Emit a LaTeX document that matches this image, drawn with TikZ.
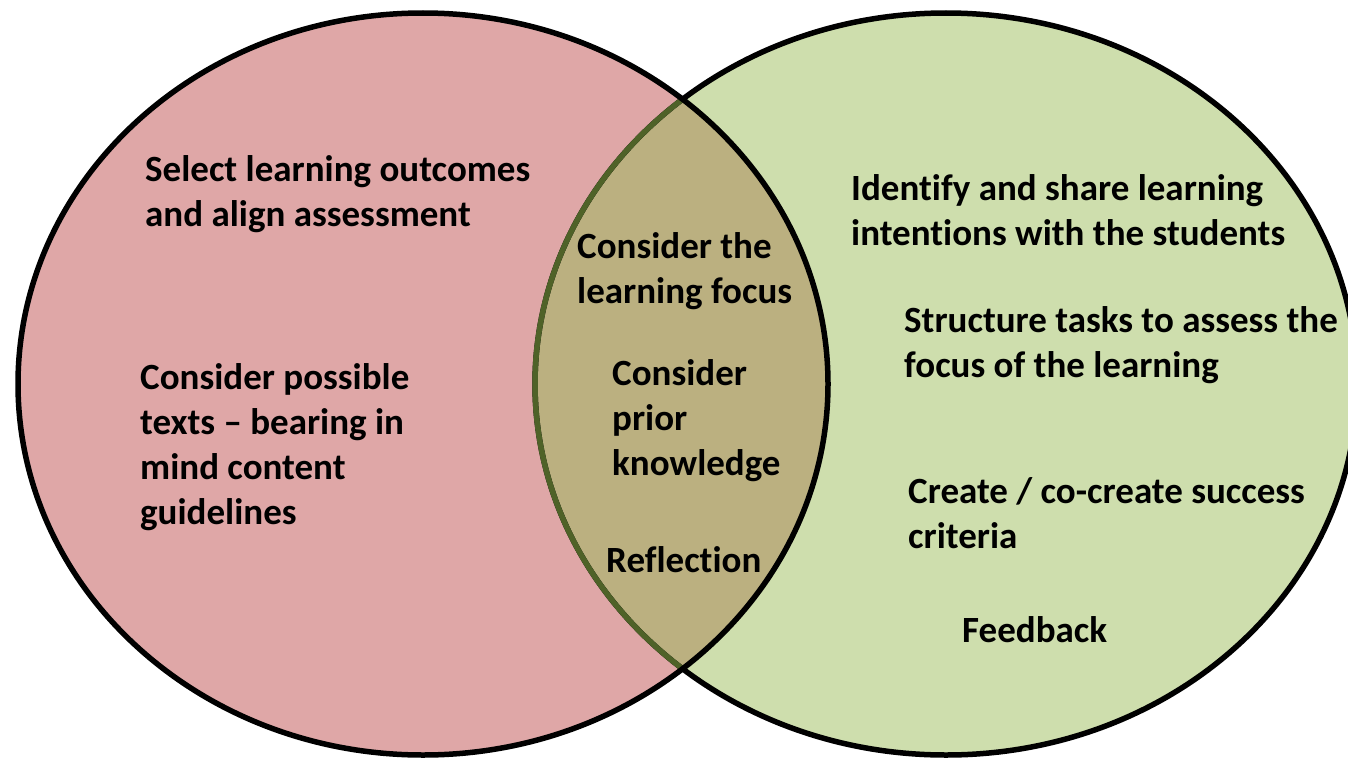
\documentclass[tikz,border=0pt]{standalone}
\usepackage{fontspec}
\setmainfont{Carlito}[Ligatures={NoCommon}]
\definecolor{leftfill}{RGB}{223,167,167}
\definecolor{rightfill}{RGB}{206,222,173}
\definecolor{overlapfill}{RGB}{187,176,128}
\definecolor{olive}{RGB}{79,98,40}
\begin{document}
\begin{tikzpicture}[x=1pt,y=-1pt,
  lbl/.style={font=\bfseries\fontsize{37}{45}\selectfont, align=left, inner sep=0pt, anchor=west, text=black},
  outline/.style={line width=5.5pt}]
\useasboundingbox (0,0) rectangle (1348,760);
\def\Lell{(423,384) ellipse [x radius=405, y radius=371]}
\def\Rell{(946,384) ellipse [x radius=411, y radius=371]}
\fill[leftfill] \Lell;
\fill[rightfill] \Rell;
\begin{scope}
  \clip \Lell;
  \fill[overlapfill] \Rell;
\end{scope}
\draw[outline, black] \Rell;
\begin{scope}
  \clip \Lell;
  \draw[outline, olive] \Rell;
\end{scope}
\draw[outline, black] \Lell;

\node[lbl] (select) at (145,194) {Select learning outcomes\\and align assessment};
\node[lbl] (texts) at (140,447) {Consider possible\\texts -- bearing in\\mind content\\guidelines};
\node[lbl] (focus) at (577,271) {Consider the\\learning focus};
\node[lbl] (prior) at (612,421) {Consider\\prior\\knowledge};
\node[lbl] (refl) at (606,560) {Reflection};
\node[lbl] (identify) at (851,210) {Identify and share learning\\intentions with the students};
\node[lbl] (structure) at (904,345) {Structure tasks to assess the\\focus of the learning};
\node[lbl] (create) at (908,513) {Create / co-create success\\criteria};
\node[lbl] (feedback) at (962,630) {Feedback};
\end{tikzpicture}
\end{document}
